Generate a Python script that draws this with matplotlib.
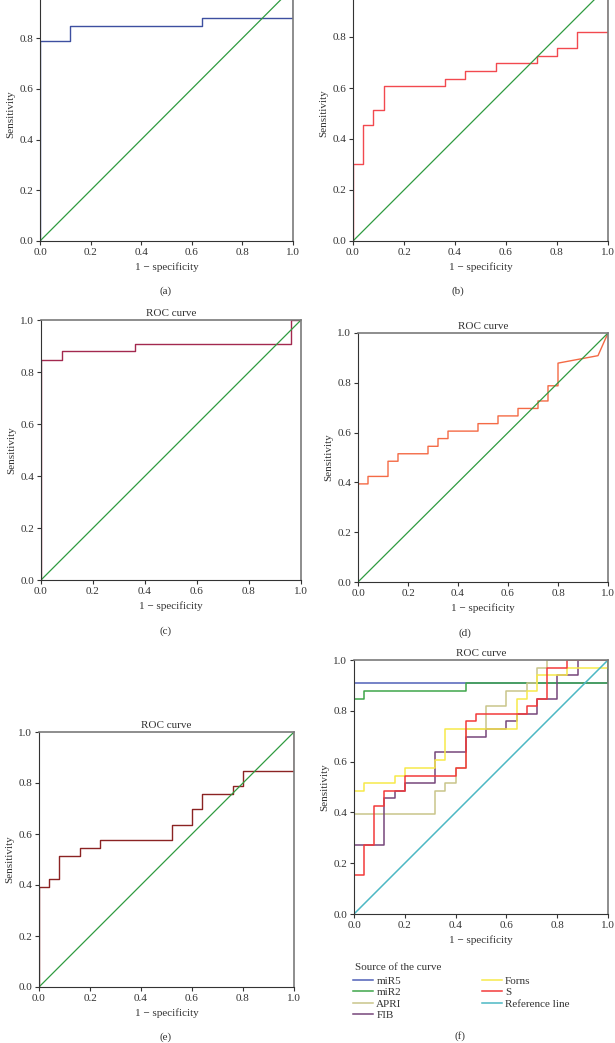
import matplotlib
matplotlib.use("Agg")
import matplotlib.pyplot as plt

plt.rcParams["font.family"] = ["Liberation Serif", "DejaVu Serif"]
plt.rcParams["font.size"] = 8

# ROC curve vertices (1 - specificity, sensitivity)
fpr_a = [0, 0, 0.12, 0.12, 0.64, 0.64, 1.0, 1.0]
tpr_a = [0, 0.788, 0.788, 0.848, 0.848, 0.879, 0.879, 1.0]

fpr_b = [0, 0, 0.04, 0.04, 0.08, 0.08, 0.12, 0.12, 0.36, 0.36, 0.44, 0.44,
         0.56, 0.56, 0.72, 0.72, 0.80, 0.80, 0.88, 0.88, 1.0, 1.0]
tpr_b = [0, 0.303, 0.303, 0.455, 0.455, 0.515, 0.515, 0.606, 0.606, 0.636, 0.636, 0.667,
         0.667, 0.697, 0.697, 0.727, 0.727, 0.758, 0.758, 0.818, 0.818, 1.0]

fpr_c = [0, 0, 0.08, 0.08, 0.36, 0.36, 0.96, 0.96, 1.0]
tpr_c = [0, 0.848, 0.848, 0.879, 0.879, 0.909, 0.909, 1.0, 1.0]

fpr_d = [0, 0, 0.04, 0.04, 0.12, 0.12, 0.16, 0.16, 0.28, 0.28, 0.32, 0.32, 0.36, 0.36,
         0.48, 0.48, 0.56, 0.56, 0.64, 0.64, 0.72, 0.72, 0.76, 0.76, 0.80, 0.80, 0.96, 1.0]
tpr_d = [0, 0.394, 0.394, 0.424, 0.424, 0.485, 0.485, 0.515, 0.515, 0.545, 0.545, 0.576, 0.576, 0.606,
         0.606, 0.636, 0.636, 0.667, 0.667, 0.697, 0.697, 0.727, 0.727, 0.788, 0.788, 0.879, 0.909, 1.0]

fpr_e = [0, 0, 0.04, 0.04, 0.08, 0.08, 0.16, 0.16, 0.24, 0.24, 0.52, 0.52,
         0.60, 0.60, 0.64, 0.64, 0.76, 0.76, 0.80, 0.80, 1.0, 1.0]
tpr_e = [0, 0.394, 0.394, 0.424, 0.424, 0.515, 0.515, 0.545, 0.545, 0.576, 0.576, 0.636,
         0.636, 0.697, 0.697, 0.758, 0.758, 0.788, 0.788, 0.848, 0.848, 1.0]

# panel (f): all markers together
fpr_mir5 = [0, 0, 1.0, 1.0]
tpr_mir5 = [0, 0.909, 0.909, 1.0]
fpr_mir2 = [0, 0, 0.04, 0.04, 0.44, 0.44, 1.0, 1.0]
tpr_mir2 = [0, 0.848, 0.848, 0.879, 0.879, 0.909, 0.909, 1.0]
fpr_apri = [0, 0, 0.32, 0.32, 0.36, 0.36, 0.40, 0.40, 0.44, 0.44, 0.52,
            0.52, 0.60, 0.60, 0.68, 0.68, 0.72, 0.72, 0.76, 0.76, 1.0]
tpr_apri = [0, 0.394, 0.394, 0.485, 0.485, 0.515, 0.515, 0.576, 0.576, 0.727, 0.727,
            0.818, 0.818, 0.879, 0.879, 0.909, 0.909, 0.970, 0.970, 1.0, 1.0]
fpr_fib = [0, 0, 0.12, 0.12, 0.16, 0.16, 0.20, 0.20, 0.32, 0.32, 0.44, 0.44, 0.52,
           0.52, 0.60, 0.60, 0.64, 0.64, 0.72, 0.72, 0.80, 0.80, 0.88, 0.88, 1.0]
tpr_fib = [0, 0.273, 0.273, 0.455, 0.455, 0.485, 0.485, 0.515, 0.515, 0.636, 0.636, 0.697, 0.697,
           0.727, 0.727, 0.758, 0.758, 0.788, 0.788, 0.848, 0.848, 0.939, 0.939, 1.0, 1.0]
fpr_forns = [0, 0, 0.04, 0.04, 0.16, 0.16, 0.20, 0.20, 0.32, 0.32, 0.36,
             0.36, 0.64, 0.64, 0.68, 0.68, 0.72, 0.72, 0.84, 0.84, 1.0, 1.0]
tpr_forns = [0, 0.485, 0.485, 0.515, 0.515, 0.545, 0.545, 0.576, 0.576, 0.606, 0.606,
             0.727, 0.727, 0.848, 0.848, 0.879, 0.879, 0.939, 0.939, 0.970, 0.970, 1.0]
fpr_s = [0, 0, 0.04, 0.04, 0.08, 0.08, 0.12, 0.12, 0.20, 0.20, 0.40, 0.40, 0.44,
         0.44, 0.48, 0.48, 0.68, 0.68, 0.72, 0.72, 0.76, 0.76, 0.84, 0.84, 1.0]
tpr_s = [0, 0.152, 0.152, 0.273, 0.273, 0.424, 0.424, 0.485, 0.485, 0.545, 0.545, 0.576, 0.576,
         0.758, 0.758, 0.788, 0.788, 0.818, 0.818, 0.848, 0.848, 0.970, 0.970, 1.0, 1.0]
ref_line = [0, 1]

labels_f = ["miR5", "miR2", "APRI", "FIB", "Forns", "S", "Reference line"]
ticks = [0.0, 0.2, 0.4, 0.6, 0.8, 1.0]

W, H = 615, 1043
fig = plt.figure(figsize=(W / 100, H / 100), dpi=100)


def make_ax(left, right, top, bottom, title=True):
    ax = fig.add_axes([left / W, 1 - bottom / H, (right - left) / W, (bottom - top) / H])
    ax.set_xlim(0, 1)
    ax.set_ylim(0, 1)
    ax.set_xticks(ticks)
    ax.set_yticks(ticks)
    ax.set_xticklabels([f"{t:.1f}" for t in ticks])
    # top of panels (a)/(b) is cropped off in the figure, so drop the 1.0 label there
    ax.set_yticklabels([f"{t:.1f}" if (title or t < 1) else "" for t in ticks])
    ax.tick_params(direction="out", length=3, width=0.8, pad=2, labelsize=8, colors="#333333")
    for s in ["left", "bottom"]:
        ax.spines[s].set_color("#333333")
        ax.spines[s].set_linewidth(0.8)
    for s in ["top", "right"]:
        ax.spines[s].set_color("#7a7a7a")
        ax.spines[s].set_linewidth(1.2)
    ax.set_xlabel("1 \u2212 specificity", labelpad=4, color="#333333")
    ax.set_ylabel("Sensitivity", labelpad=3, color="#333333")
    if title:
        ax.set_title("ROC curve", pad=3, fontsize=8, color="#333333")
    return ax


green = "#2f9b40"

ax = make_ax(40, 293, -12.5, 241, title=False)
ax.plot(fpr_a, tpr_a, color="#3d4fa0", lw=1)
ax.plot(ref_line, ref_line, color=green, lw=0.9)

ax = make_ax(353, 608, -14, 241, title=False)
ax.plot(fpr_b, tpr_b, color="#f2494f", lw=1)
ax.plot(ref_line, ref_line, color=green, lw=0.9)

ax = make_ax(41, 301, 320, 580)
ax.plot(fpr_c, tpr_c, color="#a3294f", lw=1)
ax.plot(ref_line, ref_line, color=green, lw=0.9)

ax = make_ax(358, 608, 333, 582)
ax.plot(fpr_d, tpr_d, color="#f46a45", lw=1)
ax.plot(ref_line, ref_line, color=green, lw=0.9)

ax = make_ax(39, 294, 732, 987)
ax.plot(fpr_e, tpr_e, color="#8b2323", lw=1)
ax.plot(ref_line, ref_line, color=green, lw=0.9)

ax = make_ax(354, 608, 660, 914)
curves_f = [(fpr_mir5, tpr_mir5, "#5060b8"), (fpr_mir2, tpr_mir2, "#3ea64a"),
            (fpr_apri, tpr_apri, "#c9c58a"), (fpr_fib, tpr_fib, "#76477a"),
            (fpr_forns, tpr_forns, "#f7e94a"), (fpr_s, tpr_s, "#f23a3a"),
            (ref_line, ref_line, "#4cb8c4")]
handles = []
for (x, y, c), lab in zip(curves_f, labels_f):
    h, = ax.plot(x, y, color=c, lw=1.1, label=lab)
    handles.append(h)

fig.text(355 / W, 1 - 967 / H, "Source of the curve", ha="left", va="center",
         fontsize=8, color="#333333")
leg = fig.legend(handles=handles, labels=labels_f, ncol=2, loc="upper left",
                 bbox_to_anchor=(353 / W, 1 - 976 / H), frameon=False, fontsize=8,
                 handlelength=1.8, handletextpad=0.3, labelspacing=0.15,
                 columnspacing=7.2, borderpad=0, borderaxespad=0)
for t in leg.get_texts():
    t.set_color("#333333")

# sub-figure labels
for lab, x, y in [("(a)", 166, 291), ("(b)", 458, 291), ("(c)", 166, 631),
                  ("(d)", 465, 633), ("(e)", 166, 1037), ("(f)", 460, 1036)]:
    fig.text(x / W, 1 - y / H, lab, ha="center", va="center", fontsize=8, color="#333333")

plt.savefig("out.png", dpi=100)
plt.close()
